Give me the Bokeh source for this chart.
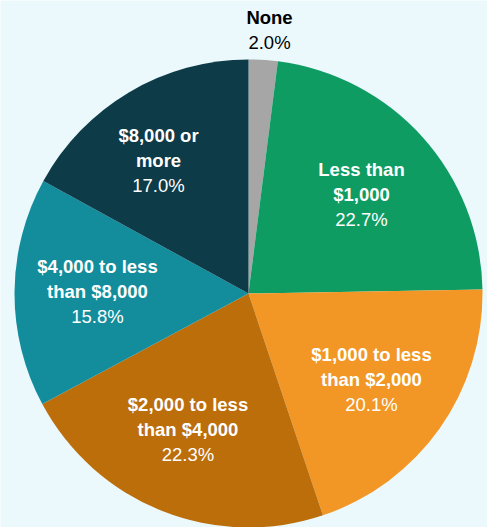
import math
from bokeh.plotting import figure
from bokeh.models import Range1d, ColumnDataSource
from bokeh.core.properties import value
from bokeh.embed import file_html
from bokeh.resources import INLINE

categories = ["None", "Less than $1,000", "$1,000 to less than $2,000",
              "$2,000 to less than $4,000", "$4,000 to less than $8,000", "$8,000 or more"]
shares = [2.0, 22.7, 20.1, 22.3, 15.8, 17.0]
colors = ["#A6A6A6", "#0F9C62", "#F29726", "#BC6E0A", "#138D9C", "#0D3B48"]
label_lines = [["None"], ["Less than", "$1,000"], ["$1,000 to less", "than $2,000"],
               ["$2,000 to less", "than $4,000"], ["$4,000 to less", "than $8,000"],
               ["$8,000 or", "more"]]
pct_labels = ["2.0%", "22.7%", "20.1%", "22.3%", "15.8%", "17.0%"]

BG = "#EBF9FD"
OX, OY = 0, 0
W, H = 487, 527
cx, cy, R = 248, 293, 234

p = figure(width=W, height=H, output_backend="svg", toolbar_location=None,
           x_range=Range1d(OX, OX + W), y_range=Range1d(-(OY + H), -OY),
           min_border=0, background_fill_color=BG, border_fill_color=BG,
           outline_line_color=None)
p.axis.visible = False
p.grid.visible = False

total = sum(shares)
starts, ends = [], []
cum = 0.0
for s in shares:
    starts.append(math.pi / 2 - 2 * math.pi * cum / total)
    cum += s
    ends.append(math.pi / 2 - 2 * math.pi * cum / total)

src = ColumnDataSource(dict(start=starts, end=ends, color=colors, cat=categories))
p.wedge(x=cx, y=-cy, radius=R, start_angle="start", end_angle="end",
        direction="clock", fill_color="color", line_color=None, source=src)

# label anchor: centre x, first line y (screen px), text colour
label_pos = [(269, 17), (361, 168.5), (371, 354), (187.5, 403.5), (97, 265.5), (158, 134.5)]
label_col = ["#000000", "white", "white", "white", "white", "white"]
LH = 25.2

bx, by, bt, bc = [], [], [], []
nx, ny, nt, nc = [], [], [], []
for (x0, y0), lines, pct, col in zip(label_pos, label_lines, pct_labels, label_col):
    for i, ln in enumerate(lines):
        bx.append(x0); by.append(-(y0 + i * LH)); bt.append(ln); bc.append(col)
    nx.append(x0); ny.append(-(y0 + len(lines) * LH)); nt.append(pct); nc.append(col)

p.text(x=bx, y=by, text=bt, text_color=bc, text_font=value("Liberation Sans"),
       text_font_style="bold", text_font_size="18.5px", text_align="center",
       text_baseline="alphabetic")
p.text(x=nx, y=ny, text=nt, text_color=nc, text_font=value("Liberation Sans"),
       text_font_style="normal", text_font_size="18.5px", text_align="center",
       text_baseline="alphabetic")

open("out.html", "w").write(file_html(p, INLINE))
